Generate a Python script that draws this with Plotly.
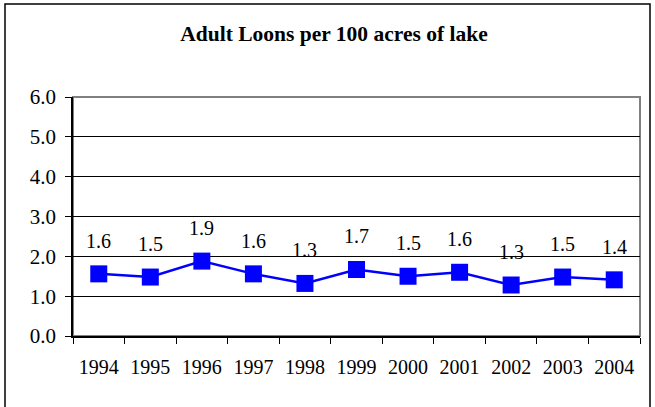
import plotly.graph_objects as go

years = ["1994", "1995", "1996", "1997", "1998", "1999", "2000", "2001", "2002", "2003", "2004"]
loons = [1.56, 1.48, 1.88, 1.56, 1.32, 1.67, 1.50, 1.60, 1.28, 1.48, 1.41]
y_ticks = [0, 1, 2, 3, 4, 5, 6]
title_text = "<b>Adult Loons per 100 acres of lake</b>"

font_family = "Liberation Serif, Times New Roman, serif"

fig = go.Figure()
fig.add_trace(go.Scatter(
    x=years, y=loons, mode="lines+markers",
    line=dict(color="#0000FF", width=2.5),
    marker=dict(symbol="square", size=17, color="#0000FF"),
    hoverinfo="skip", showlegend=False,
))

for i, v in enumerate(loons):
    fig.add_annotation(x=i, y=v, text=f"{v:.1f}", showarrow=False,
                       yshift=33, font=dict(family=font_family, size=20, color="black"))

# plot area border (gray top/right)
fig.add_shape(type="rect", xref="paper", yref="paper", x0=0, y0=0, x1=1, y1=1,
              line=dict(color="#808080", width=2), layer="below")
# outer chart border
fig.add_shape(type="rect", xref="paper", yref="paper",
              x0=-68/567, x1=1 + 10/567, y0=-1, y1=1 + 93/239,
              line=dict(color="black", width=1.5))

fig.update_layout(
    width=655, height=407,
    margin=dict(l=73, r=15, t=97, b=71),
    paper_bgcolor="white", plot_bgcolor="white",
    font=dict(family=font_family, size=20, color="black"),
    title=dict(text=title_text, x=334/655, xref="container", xanchor="center",
               y=1 - 33/407, yanchor="middle", font=dict(size=21.5)),
    xaxis=dict(type="category", showgrid=False, showline=True, linecolor="black",
               linewidth=1.5, ticks="outside", ticklen=6, tickcolor="black",
               tickson="boundaries", ticklabelstandoff=12, range=[-0.5, 10.5]),
    yaxis=dict(range=[0, 6], tickvals=y_ticks, tickformat=".1f", showgrid=True,
               gridcolor="black", gridwidth=1, showline=True, linecolor="black",
               linewidth=1.5, ticks="outside", ticklen=6, tickcolor="black",
               ticklabelstandoff=5, tickfont=dict(size=21), zeroline=False),
)

fig.write_html("out.html", config={"displayModeBar": False},
               post_script="document.body.style.margin='0';document.body.style.overflow='hidden';")
